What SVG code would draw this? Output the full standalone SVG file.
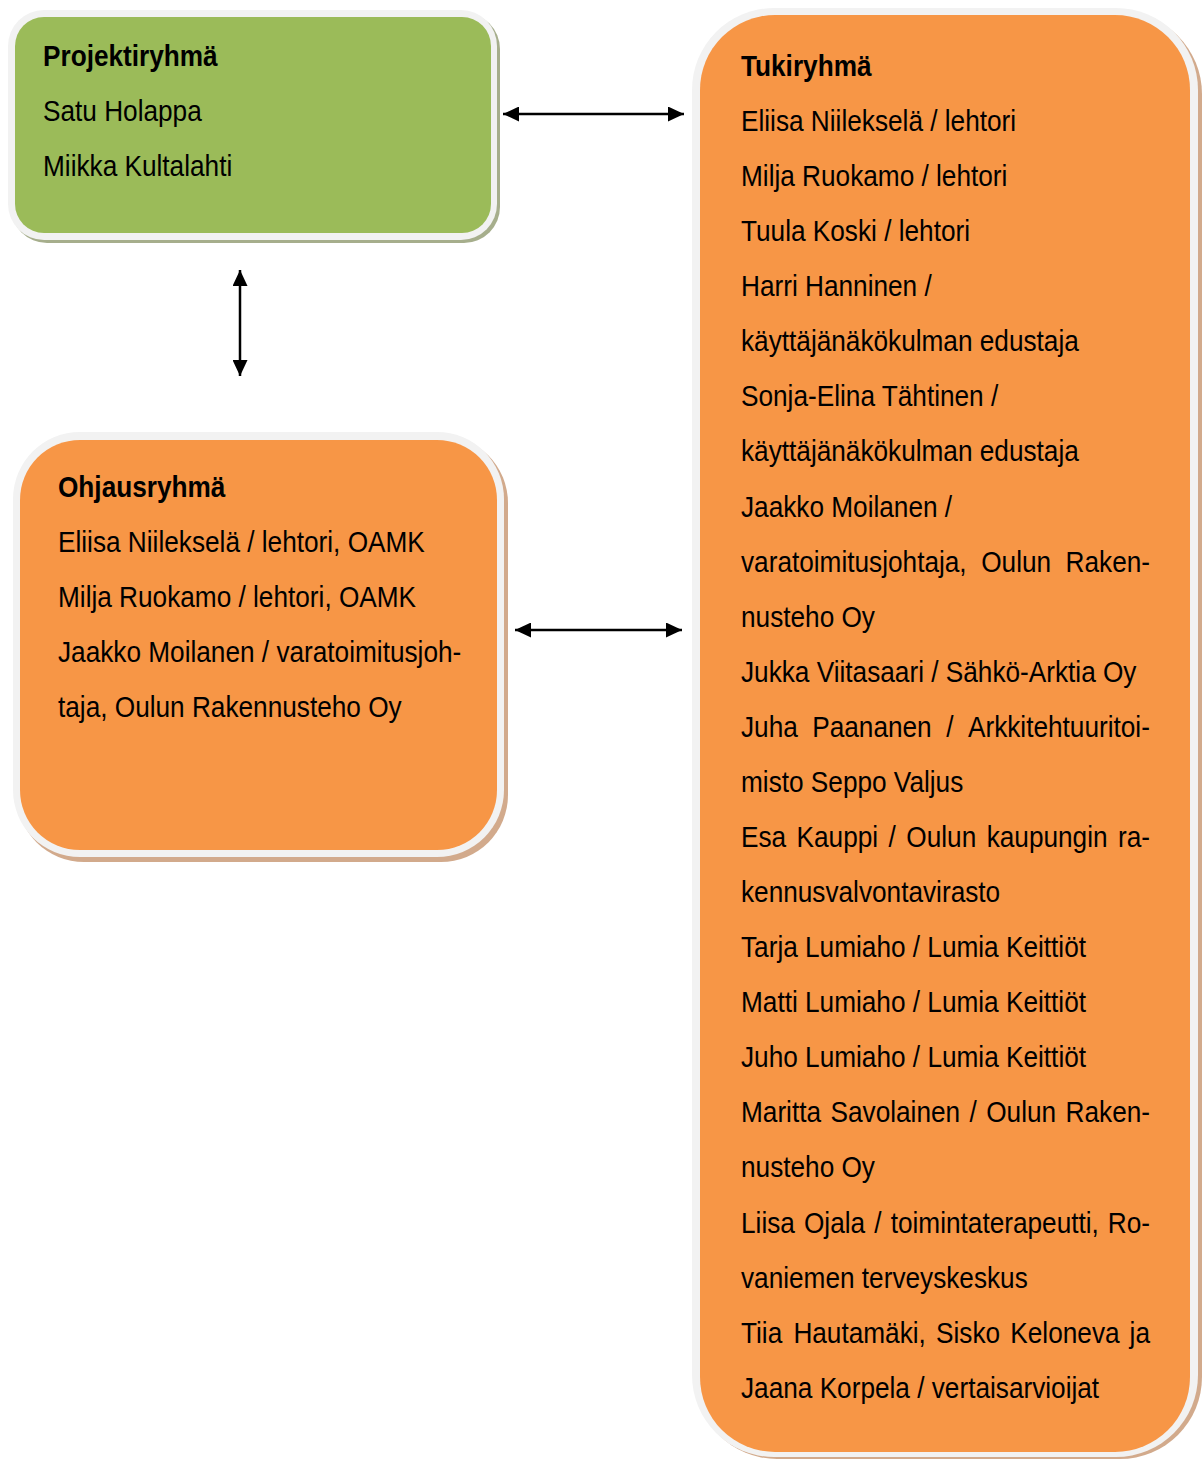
<svg xmlns="http://www.w3.org/2000/svg" width="1202" height="1459" viewBox="0 0 1202 1459">
<style>
.t{font-family:"Liberation Sans",Arial,sans-serif;font-size:30px;fill:#000}
.b{font-weight:bold}
.rim{fill:#f2f2f2}
.shg{fill:#a6ae8c}
.sho{fill:#d2aa8c}
.green{fill:#9bbb59}
.orange{fill:#f79646}
.con{stroke:#000;stroke-width:2.5;fill:none;marker-start:url(#ah);marker-end:url(#ah)}
</style>
<defs>
<marker id="ah" viewBox="0 0 16 15" refX="16" refY="7.5" markerWidth="16" markerHeight="15" markerUnits="userSpaceOnUse" orient="auto-start-reverse">
<path d="M0,0 L16,7.5 L0,15 z" fill="#000"/>
</marker>
</defs>
<rect width="1202" height="1459" fill="#fff"/>

<g id="projektiryhma">
<rect class="shg" x="11" y="13" width="489" height="230" rx="36"/>
<rect class="rim" x="8" y="10" width="489" height="230" rx="36"/>
<rect class="green" x="15" y="17" width="476" height="216" rx="29"/>
<g transform="translate(43 0) scale(0.8733 1)">
<text class="t b" x="0" y="66">Projektiryhmä</text>
<text class="t" x="0" y="121">Satu Holappa</text>
<text class="t" x="0" y="176">Miikka Kultalahti</text>
</g>
</g>

<g id="ohjausryhma">
<rect class="sho" x="17" y="436" width="491" height="426" rx="67"/>
<rect class="rim" x="13" y="432" width="491" height="425" rx="67"/>
<rect class="orange" x="20" y="440" width="477" height="410" rx="60"/>
<g transform="translate(58 0) scale(0.8733 1)">
<text class="t b" x="0" y="497">Ohjausryhmä</text>
<text class="t" x="0" y="552">Eliisa Niilekselä / lehtori, OAMK</text>
<text class="t" x="0" y="607">Milja Ruokamo / lehtori, OAMK</text>
<text class="t" x="0" y="662">Jaakko Moilanen / varatoimitusjoh-</text>
<text class="t" x="0" y="717">taja, Oulun Rakennusteho Oy</text>
</g>
</g>

<g id="tukiryhma">
<rect class="sho" x="695" y="12" width="507" height="1447" rx="82"/>
<rect class="rim" x="692" y="8" width="506" height="1449" rx="82"/>
<rect class="orange" x="700" y="15" width="490" height="1437" rx="75"/>
<g transform="translate(741 0) scale(0.8733 1)">
<text class="t b" x="0" y="76">Tukiryhmä</text>
<text class="t" x="0" y="131">Eliisa Niilekselä / lehtori</text>
<text class="t" x="0" y="186">Milja Ruokamo / lehtori</text>
<text class="t" x="0" y="241">Tuula Koski / lehtori</text>
<text class="t" x="0" y="296">Harri Hanninen /</text>
<text class="t" x="0" y="351">käyttäjänäkökulman edustaja</text>
<text class="t" x="0" y="406">Sonja-Elina Tähtinen /</text>
<text class="t" x="0" y="461">käyttäjänäkökulman edustaja</text>
<text class="t" x="0" y="517">Jaakko Moilanen /</text>
<text class="t" y="572"><tspan x="0">varatoimitusjohtaja,</tspan> <tspan x="275.1">Oulun</tspan> <tspan x="371.7">Raken-</tspan></text>
<text class="t" x="0" y="627">nusteho Oy</text>
<text class="t" x="0" y="682">Jukka Viitasaari / Sähkö-Arktia Oy</text>
<text class="t" y="737"><tspan x="0">Juha</tspan> <tspan x="81.6">Paananen</tspan> <tspan x="235">/</tspan> <tspan x="259.9">Arkkitehtuuritoi-</tspan></text>
<text class="t" x="0" y="792">misto Seppo Valjus</text>
<text class="t" y="847"><tspan x="0">Esa</tspan> <tspan x="63.6">Kauppi</tspan> <tspan x="169">/</tspan> <tspan x="189.3">Oulun</tspan> <tspan x="281.3">kaupungin</tspan> <tspan x="431.7">ra-</tspan></text>
<text class="t" x="0" y="902">kennusvalvontavirasto</text>
<text class="t" x="0" y="957">Tarja Lumiaho / Lumia Keittiöt</text>
<text class="t" x="0" y="1012">Matti Lumiaho / Lumia Keittiöt</text>
<text class="t" x="0" y="1067">Juho Lumiaho / Lumia Keittiöt</text>
<text class="t" y="1122"><tspan x="0">Maritta</tspan> <tspan x="102.5">Savolainen</tspan> <tspan x="261.6">/</tspan> <tspan x="280.8">Oulun</tspan> <tspan x="371.7">Raken-</tspan></text>
<text class="t" x="0" y="1177">nusteho Oy</text>
<text class="t" y="1233"><tspan x="0">Liisa</tspan> <tspan x="72.1">Ojala</tspan> <tspan x="152.6">/</tspan> <tspan x="171.4">toimintaterapeutti,</tspan> <tspan x="420">Ro-</tspan></text>
<text class="t" x="0" y="1288">vaniemen terveyskeskus</text>
<text class="t" y="1343"><tspan x="0">Tiia</tspan> <tspan x="60">Hautamäki,</tspan> <tspan x="223.3">Sisko</tspan> <tspan x="308.4">Keloneva</tspan> <tspan x="445">ja</tspan></text>
<text class="t" x="0" y="1398">Jaana Korpela / vertaisarvioijat</text>
</g>
</g>

<g id="connectors">
<line class="con" x1="503" y1="114" x2="684" y2="114"/>
<line class="con" x1="240" y1="270" x2="240" y2="376"/>
<line class="con" x1="515" y1="630" x2="682" y2="630"/>
</g>
</svg>
